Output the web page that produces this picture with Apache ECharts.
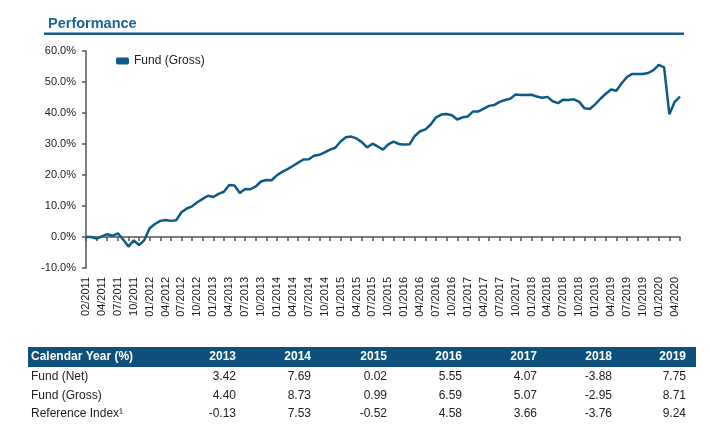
<!DOCTYPE html>
<html>
<head>
<meta charset="utf-8">
<script src="https://cdn.jsdelivr.net/npm/echarts@6/dist/echarts.min.js"></script>
<style>
html,body{margin:0;padding:0;background:#fff;}
#c{width:710px;height:434px;}
</style>
</head>
<body>
<div id="c"></div>
<script>
// ---- data ----
const titleText = 'Performance';
const seriesName = 'Fund (Gross)';
// cumulative performance (%), monthly, inception first
const fundGross = [
  0, 0, -0.5, 0.2, 0.9, 0.4, 1.2, -0.8, -3.1, -1.1,
  -2.6, -1.0, 2.8, 4.2, 5.2, 5.5, 5.2, 5.4, 8.0, 9.2,
  9.9, 11.2, 12.3, 13.3, 12.9, 13.9, 14.6, 16.8, 16.6, 14.2,
  15.5, 15.4, 16.3, 17.9, 18.4, 18.3, 19.9, 21.0, 21.9, 22.9,
  24.0, 25.0, 25.1, 26.2, 26.5, 27.3, 28.2, 28.8, 30.8, 32.2,
  32.4, 31.8, 30.6, 28.9, 30.1, 29.2, 28.2, 29.9, 30.8, 30.0,
  29.8, 29.9, 32.6, 34.1, 34.7, 36.3, 38.6, 39.5, 39.7, 39.3,
  37.9, 38.6, 38.9, 40.5, 40.5, 41.4, 42.3, 42.6, 43.6, 44.2,
  44.6, 46.0, 45.8, 45.8, 45.9, 45.3, 44.9, 45.2, 43.8, 43.2,
  44.3, 44.2, 44.4, 43.6, 41.5, 41.3, 42.8, 44.6, 46.2, 47.6,
  47.2, 49.6, 51.6, 52.6, 52.6, 52.6, 52.9, 53.8, 55.5, 54.7,
  39.6, 43.6, 45.3
];
// month labels: inception 02/2011, then month-ends 02/2011 .. 05/2020
const months = ['02/2011'];
(function(){
  let y = 2011, m = 2;
  for (let k = 1; k < fundGross.length; k++) {
    months.push((m < 10 ? '0' + m : '' + m) + '/' + y);
    m++; if (m > 12) { m = 1; y++; }
  }
})();
const yMin = -10, yMax = 60, yStep = 10;

const tableHeader = ['Calendar Year (%)', '2013', '2014', '2015', '2016', '2017', '2018', '2019'];
const rowLabels = ['Fund (Net)', 'Fund (Gross)', 'Reference Index¹'];
const fundNet = ['3.42', '7.69', '0.02', '5.55', '4.07', '-3.88', '7.75'];
const fundGrossYear = ['4.40', '8.73', '0.99', '6.59', '5.07', '-2.95', '8.71'];
const referenceIndex = ['-0.13', '7.53', '-0.52', '4.58', '3.66', '-3.76', '9.24'];
const tableRows = [fundNet, fundGrossYear, referenceIndex];

// ---- layout ----
const FONT = '"Liberation Sans", Arial, sans-serif';
const colRight = [236, 311, 387, 462, 537, 612, 686];
const rowY = [377, 396, 414];

const graphics = [
  { type: 'text', left: 48, top: 16, style: { text: titleText, fill: '#1b6496', font: 'bold 14.5px ' + FONT } },
  { type: 'rect', shape: { x: 44, y: 32.5, width: 640, height: 2.5 }, style: { fill: '#1a5a88' } },
  { type: 'rect', shape: { x: 28, y: 347, width: 668, height: 20 }, style: { fill: '#0f4f7c' } },
  { type: 'text', x: 31, y: 357, style: { text: tableHeader[0], fill: '#fff', font: 'bold 12px ' + FONT, textVerticalAlign: 'middle', textAlign: 'left' } }
];
for (let c = 1; c < tableHeader.length; c++) {
  graphics.push({ type: 'text', x: colRight[c - 1], y: 357, style: { text: tableHeader[c], fill: '#fff', font: 'bold 12px ' + FONT, textAlign: 'right', textVerticalAlign: 'middle' } });
}
for (let r = 0; r < rowLabels.length; r++) {
  graphics.push({ type: 'text', x: 31, y: rowY[r], style: { text: rowLabels[r], fill: '#222', font: '12px ' + FONT, textAlign: 'left', textVerticalAlign: 'middle' } });
  for (let c = 0; c < tableRows[r].length; c++) {
    graphics.push({ type: 'text', x: colRight[c], y: rowY[r], style: { text: tableRows[r][c], fill: '#222', font: '12px ' + FONT, textAlign: 'right', textVerticalAlign: 'middle' } });
  }
}

const chart = echarts.init(document.getElementById('c'));
chart.setOption({
  animation: false,
  textStyle: { fontFamily: FONT },
  grid: { left: 86, right: 30, top: 51, bottom: 166, containLabel: false },
  legend: {
    left: 116, top: 55, padding: 0, itemWidth: 13, itemHeight: 7, itemGap: 10,
    icon: 'roundRect',
    textStyle: { fontSize: 12, color: '#222', fontFamily: FONT },
    data: [seriesName]
  },
  xAxis: [
    {
      type: 'category', data: months, boundaryGap: false,
      axisLine: { onZero: true, lineStyle: { color: '#555', width: 1.5 } },
      axisTick: { show: true, interval: 1, length: 4, lineStyle: { color: '#555', width: 1.5 } },
      axisLabel: { show: false }
    },
    {
      type: 'category', data: months, boundaryGap: false, position: 'bottom',
      axisLine: { show: false, onZero: false },
      axisTick: { show: false },
      axisLabel: { show: true, interval: 2, rotate: 90, margin: 9, fontSize: 11, color: '#1a1a1a', fontFamily: FONT }
    }
  ],
  yAxis: {
    type: 'value', min: yMin, max: yMax, interval: yStep,
    splitLine: { show: false },
    axisLine: { show: true, lineStyle: { color: '#555', width: 1.5 } },
    axisTick: { show: true, length: 4, lineStyle: { color: '#555', width: 1.5 } },
    axisLabel: { fontSize: 11, color: '#222', margin: 10, fontFamily: FONT, formatter: v => v.toFixed(1) + '%' }
  },
  series: [{
    name: seriesName, type: 'line', xAxisIndex: 0, data: fundGross,
    showSymbol: false, symbol: 'none',
    lineStyle: { color: '#0e5a87', width: 2.5 },
    itemStyle: { color: '#0e5a87' }
  }],
  graphic: graphics
});
</script>
</body>
</html>
